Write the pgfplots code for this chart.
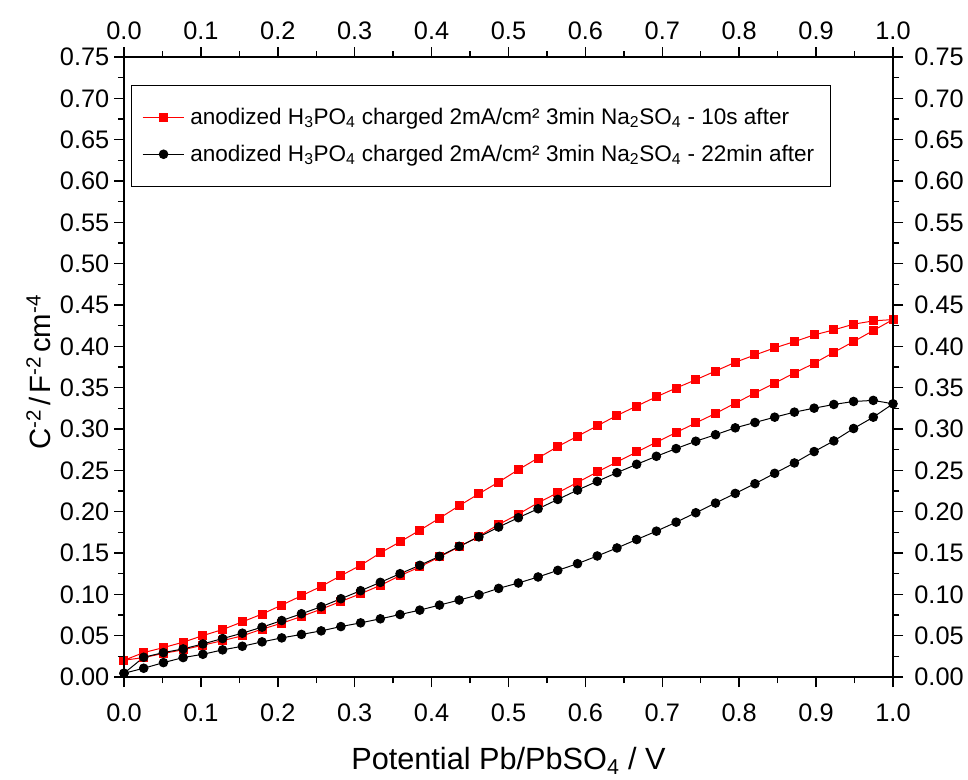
\documentclass[border=0pt]{standalone}
\usepackage{fontspec}
\setmainfont{Liberation Sans}
\usepackage{pgfplots}
\usepackage{pgfplotstable}
\pgfplotsset{compat=1.18}

\pgfplotstableread{
x y
0.00000 0.0203
0.02564 0.0295
0.05128 0.0356
0.07692 0.0421
0.10256 0.0501
0.12821 0.0574
0.15385 0.0667
0.17949 0.0761
0.20513 0.0870
0.23077 0.0983
0.25641 0.1096
0.28205 0.1226
0.30769 0.1351
0.33333 0.1501
0.35897 0.1635
0.38462 0.1775
0.41026 0.1921
0.43590 0.2072
0.46154 0.2217
0.48718 0.2358
0.51282 0.2508
0.53846 0.2649
0.56410 0.2788
0.58974 0.2913
0.61538 0.3038
0.64103 0.3164
0.66667 0.3277
0.69231 0.3390
0.71795 0.3495
0.74359 0.3596
0.76923 0.3701
0.79487 0.3807
0.82051 0.3896
0.84615 0.3981
0.87179 0.4057
0.89744 0.4138
0.92308 0.4199
0.94872 0.4268
0.97436 0.4308
1.00000 0.4324
0.97436 0.4191
0.94872 0.4057
0.92308 0.3928
0.89744 0.3795
0.87179 0.3677
0.84615 0.3556
0.82051 0.3434
0.79487 0.3313
0.76923 0.3188
0.74359 0.3074
0.71795 0.2957
0.69231 0.2840
0.66667 0.2722
0.64103 0.2601
0.61538 0.2480
0.58974 0.2354
0.56410 0.2229
0.53846 0.2108
0.51282 0.1970
0.48718 0.1845
0.46154 0.1703
0.43590 0.1574
0.41026 0.1453
0.38462 0.1331
0.35897 0.1226
0.33333 0.1108
0.30769 0.1007
0.28205 0.0914
0.25641 0.0821
0.23077 0.0732
0.20513 0.0651
0.17949 0.0579
0.15385 0.0498
0.12821 0.0440
0.10256 0.0385
0.07692 0.0330
0.05128 0.0285
0.02564 0.0235
0.00000 0.0203
}\redloop

\pgfplotstableread{
x y
0.00000 0.0045
0.02564 0.0239
0.05128 0.0295
0.07692 0.0340
0.10256 0.0400
0.12821 0.0465
0.15385 0.0530
0.17949 0.0603
0.20513 0.0683
0.23077 0.0765
0.25641 0.0850
0.28205 0.0947
0.30769 0.1044
0.33333 0.1145
0.35897 0.1250
0.38462 0.1351
0.41026 0.1460
0.43590 0.1581
0.46154 0.1695
0.48718 0.1814
0.51282 0.1927
0.53846 0.2035
0.56410 0.2148
0.58974 0.2261
0.61538 0.2367
0.64103 0.2472
0.66667 0.2573
0.69231 0.2670
0.71795 0.2763
0.74359 0.2852
0.76923 0.2931
0.79487 0.3014
0.82051 0.3079
0.84615 0.3143
0.87179 0.3204
0.89744 0.3252
0.92308 0.3297
0.94872 0.3333
0.97436 0.3346
1.00000 0.3305
0.97436 0.3143
0.94872 0.3006
0.92308 0.2856
0.89744 0.2727
0.87179 0.2589
0.84615 0.2464
0.82051 0.2338
0.79487 0.2221
0.76923 0.2104
0.74359 0.1987
0.71795 0.1873
0.69231 0.1764
0.66667 0.1663
0.64103 0.1561
0.61538 0.1464
0.58974 0.1371
0.56410 0.1290
0.53846 0.1210
0.51282 0.1137
0.48718 0.1072
0.46154 0.0995
0.43590 0.0931
0.41026 0.0870
0.38462 0.0809
0.35897 0.0756
0.33333 0.0704
0.30769 0.0655
0.28205 0.0610
0.25641 0.0558
0.23077 0.0515
0.20513 0.0473
0.17949 0.0425
0.15385 0.0372
0.12821 0.0328
0.10256 0.0275
0.07692 0.0235
0.05128 0.0174
0.02564 0.0106
0.00000 0.0045
}\blackloop

\pgfplotsset{
  common/.style={
    scale only axis,
    width=576.75pt, height=465pt,
    xmin=0, xmax=1, ymin=0, ymax=0.75,
    xtick={0,0.1,0.2,0.3,0.4,0.5,0.6,0.7,0.8,0.9,1},
    ytick={0,0.05,0.1,0.15,0.2,0.25,0.3,0.35,0.4,0.45,0.5,0.55,0.6,0.65,0.7,0.75},
    minor x tick num=1, minor y tick num=1,
    tick align=outside,
    major tick length=7.5pt, minor tick length=4.5pt,
    every tick/.style={black, line width=1.1pt},
    axis line style={line width=1.4pt},
    /pgf/number format/assume math mode=true,
    x tick label style={/pgf/number format/.cd, fixed, fixed zerofill, precision=1, /tikz/.cd, font=\fontsize{19}{19}\selectfont},
    y tick label style={/pgf/number format/.cd, fixed, fixed zerofill, precision=2, /tikz/.cd, font=\fontsize{19}{19}\selectfont},
    scaled ticks=false,
  }
}

\begin{document}
\begin{tikzpicture}
\path[use as bounding box] (-93pt,-76.5pt) rectangle (633pt,507.75pt);
\begin{axis}[
  common,
  xticklabel pos=lower, yticklabel pos=left,
  xticklabel style={yshift=-9pt},
  xlabel={Potential Pb/PbSO\textsubscript{4} / V},
  ylabel={C\textsuperscript{-2}\hspace{3pt}/\hspace{3pt}F\textsuperscript{-2}\hspace{3pt}cm\textsuperscript{-4}},
  xlabel style={font=\fontsize{23}{23}\selectfont, yshift=-12pt},
  ylabel style={font=\fontsize{22}{22}\selectfont, xshift=-4pt},
  legend style={at={(0.0091,0.955)}, anchor=north west, draw=black, line width=0.8pt,
    font=\fontsize{16.9}{21}\selectfont, row sep=10pt, inner xsep=8pt, inner ysep=15pt,
    nodes={inner xsep=4pt, inner ysep=2pt}},
  legend cell align=left,
  legend image code/.code={\draw[mark repeat=2, mark phase=2] plot coordinates {(0cm,0cm) (0.55cm,0cm) (1.1cm,0cm)};},
]
\addplot[red, line width=0.75pt, mark=square*, mark size=3pt, mark options={solid, fill=red, draw=red}] table[x=x,y=y] {\redloop};
\addlegendentry{anodized H\textsubscript{3}PO\textsubscript{4} charged 2mA/cm² 3min Na\textsubscript{2}SO\textsubscript{4} - 10s after}
\addplot[black, line width=0.75pt, mark=*, mark size=3.2pt, mark options={solid, fill=black}] table[x=x,y=y] {\blackloop};
\addlegendentry{anodized H\textsubscript{3}PO\textsubscript{4} charged 2mA/cm² 3min Na\textsubscript{2}SO\textsubscript{4} - 22min after}
\end{axis}
\begin{axis}[
  common,
  xticklabel pos=upper, yticklabel pos=right,
  xticklabel style={yshift=2pt},
  yticklabel style={xshift=5pt},
]
\end{axis}
\end{tikzpicture}
\end{document}
